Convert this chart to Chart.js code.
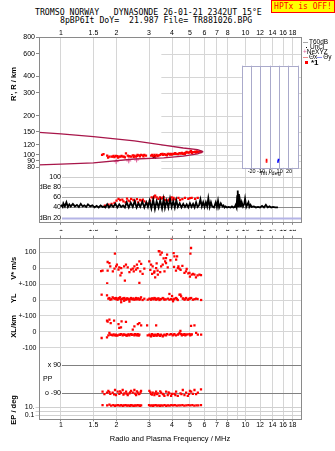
<!DOCTYPE html>
<html>
<head>
<meta charset="utf-8">
<title>Dynasonde ionogram</title>
<script src="https://cdn.jsdelivr.net/npm/chart.js@4.4.1/dist/chart.umd.min.js"></script>
<style>
  body { margin: 0; background: #fff; }
  #page { position: relative; width: 335px; height: 451px; overflow: hidden; }
  #page canvas { position: absolute; }
  .hdr { position: absolute; font-family: 'DejaVu Sans Mono', monospace; font-size: 8.2px; line-height: 9px; white-space: pre; color: #000; }
  #hptx { position: absolute; left: 271px; top: 0; width: 62px; height: 11px; border: 1px solid #f00; background: #ff0;
          color: #f00; font-family: 'DejaVu Sans Mono', monospace; font-size: 8px; line-height: 11px; text-align: center; white-space: pre; }
  .lg { position: absolute; left: 303px; font-family: 'Liberation Sans', Arial, sans-serif; font-size: 6.5px; line-height: 6px; white-space: pre; color: #000; }
  .ln { display: inline-block; width: 5px; height: 1px; vertical-align: middle; margin-right: 1px; }
  .dot { display: inline-block; width: 1px; height: 1px; background: #000; vertical-align: middle; margin: 0 3px 0 3px; }
  .sq { display: inline-block; width: 3px; height: 3px; background: #f00; vertical-align: middle; margin: 0 3px 0 2px; }
</style>
</head>
<body>
<div id="page">
  <div class="hdr" style="left:35px;top:8px">TROMSO NORWAY   DYNASONDE 26-01-21 2342UT 15°E</div>
  <div class="hdr" style="left:60px;top:15.5px">8pBP6It DoY=  21.987 File= TR881026.BPG</div>
  <div id="hptx">HPTx is OFF!</div>

  <canvas id="topChart" width="335" height="228" style="left:0;top:0"></canvas>
  <canvas id="botChart" width="335" height="229" style="left:0;top:222px"></canvas>
  <canvas id="tiltChart" width="75" height="125" style="left:230px;top:55px"></canvas>

  <div class="lg" style="top:39px"><i class="ln" style="background:#a8a8a8"></i>T60dB</div>
  <div class="lg" style="top:44px"><i class="dot"></i>UnCl</div>
  <div class="lg" style="top:49px"><span style="color:#e0609a">+</span>NeXYZ</div>
  <div class="lg" style="top:54px"><i class="ln" style="background:#f08a8a"></i>Θx<i class="ln" style="background:#8a8af0"></i>Θy</div>
  <div class="lg" style="top:59px;font-size:8px;line-height:8px;font-weight:bold"><i class="sq"></i>*1</div>
</div>

<script>
// frequency axis shared by every panel
const fMin = 0.76, fMax = 20;
const freqTicks = [1, 1.5, 2, 3, 4, 5, 6, 7, 8, 10, 12, 14, 16, 18];
const freqTicksMid = [1, 1.5, 2, 3, 4, 5, 6, 7, 8, 9, 10, 12, 14, 16, 18];

// R' panel (virtual range, km)
const rangeTicks = [800, 600, 400, 300, 200, 150, 120, 100, 90, 80];
const modelF = [0.76, 1, 1.5, 2.5, 3.6, 4.6, 5.5, 5.9];
const modelUpper = [149, 145, 138, 128, 119, 113, 110, 106];
const modelLower = [84, 85, 87, 93, 95, 98, 102, 106];
const traceF = [1.67, 1.70, 1.78, 1.83, 1.88, 1.91, 1.95, 1.99, 2.02, 2.07, 2.10, 2.16, 2.20, 2.25, 2.30, 2.35, 2.40, 2.45, 2.50, 2.55,
  2.60, 2.65, 2.72, 2.78, 2.83, 2.89, 3.08, 3.15, 3.21, 3.30, 3.34, 3.45, 3.49, 3.58, 3.64, 3.70, 3.79, 3.86, 3.95, 4.05,
  4.12, 4.20, 4.30, 4.40, 4.48, 4.58, 4.67, 4.75, 4.86, 4.95, 5.07, 5.18, 5.29, 5.40, 5.51, 5.62, 5.74,
  1.80, 1.93, 2.04, 2.13, 2.22, 2.33, 2.48, 2.58, 2.68, 2.80, 3.12, 3.25, 3.40, 3.55, 3.75, 3.90, 4.00, 4.16, 4.35, 4.52,
  4.70, 4.80, 5.00, 5.12, 5.35, 5.46, 5.68];
const traceR = [100, 101.2, 98.7, 96.9, 97, 96.9, 96, 98.1, 98, 96.9, 97, 96.9, 97, 102.7, 98.7, 98, 96.9, 99, 98.7, 97,
  100, 99, 100, 99, 100, 98.7, 98.7, 98, 100, 100, 98.1, 100, 101.2, 100, 101.2, 100, 101.8, 102, 101.8, 102,
  101.8, 102, 101.2, 103, 102.3, 102, 103, 104, 104.2, 104, 107.3, 105, 105, 104, 105, 106, 105,
  95.5, 98.5, 95.5, 98.5, 95.8, 97.5, 96.5, 98.5, 97.5, 97.5, 100, 97, 99, 102, 99, 100.5, 100.5, 103, 102.5, 103.5,
  102, 105.5, 105.5, 103.5, 106, 106.5, 107];
const nexyzF = [1.99, 2.33, 2.57];
const nexyzR = [88.8, 90, 91.5];
const unclF = [3.2];
const unclR = [96.5];

// amplitude panel (dB)
const dbeTicks = [100, 80, 60, 40, 20];
const dbeLabels = ['100', 'dBe 80', '60', '40', 'dBn 20'];
const noiseF = [1.00, 1.02, 1.03, 1.05, 1.07, 1.09, 1.11, 1.13, 1.16, 1.19,
  1.22, 1.25, 1.28, 1.31, 1.34, 1.37, 1.40, 1.44, 1.48, 1.52,
  1.56, 1.60, 1.64, 1.68, 1.71, 1.74, 1.78, 1.82, 1.87, 1.92,
  1.97, 2.02, 2.07, 2.12, 2.17, 2.22, 2.27, 2.33, 2.39, 2.45,
  2.51, 2.57, 2.63, 2.69, 2.76, 2.83, 2.90, 2.96, 3.02, 3.09,
  3.16, 3.23, 3.30, 3.38, 3.45, 3.53, 3.60, 3.66, 3.74, 3.82,
  3.90, 3.98, 4.06, 4.14, 4.22, 4.30, 4.40, 4.50, 4.60, 4.70,
  4.80, 4.90, 5.00, 5.10, 5.20, 5.30, 5.40, 5.50, 5.60, 5.70,
  5.80, 5.90, 6.00, 6.10, 6.20, 6.29, 6.40, 6.50, 6.60, 6.75,
  6.90, 7.00, 7.10, 7.20, 7.35, 7.50, 7.60, 7.70, 7.80, 7.95,
  8.10, 8.30, 8.45, 8.60, 8.75, 8.85, 8.95, 9.02, 9.08, 9.15,
  9.22, 9.28, 9.35, 9.45, 9.55, 9.70, 9.85, 9.95, 10.1, 10.25,
  10.38, 10.5, 10.65, 10.8, 11.1, 11.4, 11.7, 12.0, 12.3, 12.6,
  12.9, 13.2, 13.5, 13.8, 14.1, 14.5, 15.0];
const noiseDb = [45, 41, 48, 42, 50, 41, 46, 42, 47, 42,
  45, 41, 47, 42, 44, 41, 46, 42, 44, 40,
  43, 40, 44, 41, 42, 40, 46, 40, 45, 41,
  47, 40, 46, 41, 44, 40, 50, 40, 49, 41,
  52, 40, 48, 41, 51, 40, 50, 41, 53, 38,
  55, 37, 52, 40, 54, 38, 56, 39, 53, 40,
  57, 41, 52, 40, 54, 41, 48, 40, 47, 41,
  46, 40, 48, 41, 47, 40, 50, 41, 44, 56,
  42, 50, 41, 50, 42, 58, 41, 50, 42, 40,
  50, 41, 53, 40, 48, 42, 44, 40, 42, 40,
  41, 40, 42, 40, 41, 45, 40, 62, 73, 42,
  66, 44, 52, 41, 50, 42, 47, 57, 41, 46,
  50, 41, 45, 41, 42, 40, 41, 40, 43, 40,
  45, 40, 42, 40, 41, 40, 40];
const echoF = [1.73, 1.81, 1.88, 1.95, 2.00, 2.05, 2.09, 2.15, 2.18, 2.24, 2.28, 2.32, 2.36, 2.40, 2.47, 2.52, 2.58, 2.62, 2.68, 2.74,
  2.78, 2.83, 2.91, 3.04, 3.10, 3.17, 3.20, 3.24, 3.30, 3.37, 3.44, 3.50, 3.54, 3.60, 3.66, 3.79, 3.85, 3.90, 3.98, 4.02,
  4.07, 4.16, 4.33, 4.42, 4.55, 4.70, 4.90, 5.00, 5.11, 5.33, 5.51];
const echoDb = [43.5, 45.4, 46.7, 48.7, 53.2, 56.5, 54.5, 55, 51.9, 50, 57, 53.2, 52, 56.5, 54.5, 51.9, 56, 50, 54.5, 53.2,
  55, 51.9, 48, 53.2, 59.8, 58.5, 61, 63, 59.8, 56.5, 59.8, 57, 58.5, 60, 54.5, 53.2, 55, 56.5, 59.8, 55,
  58.5, 55.8, 58.5, 54.5, 56, 58.5, 56.5, 58, 58.5, 56.5, 58.5];

// tilt inset
const tiltTicks = [-30, -20, -10, 0, 10, 20, 30];
const tiltXdeg = [-4, -4, -4];
const tiltXR = [88.5, 90.5, 92.5];
const tiltYdeg = [8.2, 8.5, 8.8];
const tiltYR = [88.5, 90.5, 92.5];

// V* (m/s)
const velF = [1.65, 1.68, 1.78, 1.79, 1.79, 1.83, 1.85, 1.91, 1.95, 1.96, 1.99, 2.01, 2.05, 2.07, 2.10, 2.12, 2.13, 2.20, 2.22, 2.25,
  2.30, 2.35, 2.40, 2.41, 2.45, 2.48, 2.50, 2.55, 2.58, 2.60, 2.66, 2.66, 2.69, 2.72, 2.77, 2.83, 3.01, 3.08, 3.14, 3.21,
  3.24, 3.28, 3.34, 3.42, 3.46, 3.49, 3.56, 3.64, 3.67, 3.71, 3.71, 3.76, 3.79, 3.92, 3.98, 4.08, 4.12, 4.21, 4.26, 4.30,
  4.33, 4.39, 4.67, 4.76, 4.97, 5.00, 5.03, 5.07, 5.11, 5.29, 5.39, 5.63, 5.74,
  3.39, 3.52, 3.60, 3.30, 3.20, 3.05, 3.12, 3.35, 3.45, 4.10, 4.20, 4.45, 4.55, 4.80, 4.90, 5.20, 5.50];
const velV = [-18, -15, -95, 39, -15, 32, 12, -20, -3, 92, 12, 22, -9, 5, -45, 1, -30, 12, -78, 22,
  5, -24, -9, -114, -3, -20, 12, -9, 22, 1, 43, -93, -20, 27, -36, -3, 43, 22, 12, -20,
  -58, 1, -15, 106, 85, 12, 22, -20, 43, 64, 32, 85, 5, 50, 186, 95, 75, 54, 75, 1,
  11, -3, -30, -20, -30, -53, 92, 127, -40, -40, -58, -40, -43,
  108, 98, 62, 30, -28, -10, -35, -40, -25, 8, -15, -10, 15, -5, -32, -36, -45];

// YL, XL (km)
const ylF = [1.661, 1.776, 1.806, 1.83, 1.851, 1.906, 1.963, 1.987, 2.029, 2.072, 2.09, 2.115, 2.12, 2.16, 2.2, 2.206, 2.253, 2.3, 2.349, 2.35,
  2.398, 2.42, 2.449, 2.5, 2.553, 2.606, 2.661, 2.716, 2.77, 2.83, 2.951, 3.015, 3.078, 3.143, 3.208, 3.277, 3.345, 3.416, 3.487, 3.561,
  3.636, 3.8, 3.87, 3.871, 3.953, 4.0, 4.03, 4.05, 4.121, 4.208, 4.297, 4.388, 4.443, 4.48, 4.574, 4.67, 4.769, 4.868, 4.972, 5.077,
  5.184, 5.403, 5.751,
  1.88, 1.94, 2.0, 2.05, 2.14, 2.18, 2.23, 2.28, 2.32, 2.38, 2.47, 2.53, 2.58, 2.63, 2.69, 3.05, 3.11, 3.18, 3.24, 3.31,
  3.38, 3.45, 3.6, 3.7, 4.1, 4.25, 4.6, 4.72, 4.92, 5.0, 5.3, 5.5];
const ylV = [33.5, 29.3, 8.4, 12.6, 2, 16.8, 8.4, 12.6, 2, 8.4, 16.8, 2, -14, 8.4, -5, 12.6, 2, 8.4, 2, -10,
  12.6, 6, 4, 2, 12.6, 8.4, 2, 16.8, 0, 8, 2, 8.4, 2, 8.4, 12.6, 2, 8.4, 0, 6.3, 12.6,
  2, 8.4, 38, 2, 6.3, 25, 2, -8, 8.4, 12.6, 0, 33.5, 33.5, 23, 8.4, 2, 12.6, 2, 8.4, 12.6,
  2, 8.4, 0,
  5, 10, 4, 12, 6, 10, 4, 10, 5, 8, 10, 5, 4, 10, 6, 5, 10, 4, 10, 5,
  10, 4, 8, 4, 4, 6, 10, 6, 4, 10, 5, 6];
const xlF = [1.661, 1.776, 1.806, 1.83, 1.851, 1.906, 1.963, 1.987, 2.029, 2.072, 2.115, 2.16, 2.206, 2.253, 2.3, 2.349, 2.398, 2.449, 2.5, 2.553,
  2.606, 2.661, 2.951, 3.015, 3.078, 3.143, 3.208, 3.277, 3.345, 3.416, 3.487, 3.561, 3.636, 3.713, 3.871, 3.953, 4.03, 4.121, 4.297, 4.388,
  4.48, 4.574, 4.67, 4.769, 4.972, 5.077, 5.403, 5.518, 5.751,
  1.88, 1.93, 2.0, 2.09, 2.18, 2.23, 2.28, 2.33, 2.42, 2.52, 2.58, 2.64, 3.05, 3.11, 3.18, 3.24, 3.31, 3.38, 3.45, 3.6,
  3.75, 4.08, 4.2, 4.34, 4.52, 4.62, 4.72, 4.85, 5.02, 5.12,
  1.79, 1.83, 1.776, 1.86, 1.94, 2.05, 2.13, 2.25, 2.115, 2.07, 2.61, 2.66, 2.5, 2.45, 2.72, 2.93, 3.28, 5.29, 5.07, 4.44];
const xlV = [-39, -35, -22, -7.5, -18, -22, -22, -18, -22, -18, -14, -22, -18, -22, -18, -22, -14, -18, -22, -18,
  -14, -18, -22, -18, -28, -18, -22, -22, -14, -22, -18, -28, -18, -22, -18, -14, -22, -14, -18, -7.5,
  -14, -18, -14, -18, -14, -18, -7.5, -18, -18,
  -20, -16, -24, -20, -16, -20, -24, -16, -20, -14, -22, -24, -24, -14, -26, -18, -24, -18, -26, -22,
  -14, -18, -22, -14, -22, -20, -22, -16, -22, -16,
  64, 76, 70, 55, 70, 49, 66, 62, 28, 24, 49, 55, 34, 13, 41, 41, 41, 41, 38, 5];

// PP and EP (deg)
const ppF = [1.776, 1.806, 1.851, 1.906, 1.963, 1.987, 2.029, 2.072, 2.115, 2.16, 2.206, 2.253, 2.3, 2.349, 2.398, 2.449, 2.5, 2.553, 2.606, 2.661,
  2.716, 3.015, 3.078, 3.143, 3.208, 3.277, 3.345, 3.416, 3.487, 3.561, 3.636, 3.713, 3.791, 3.871, 3.953, 4.121, 4.208, 4.297, 4.443, 4.574,
  4.67, 4.769, 4.868, 5.077, 5.184, 5.292, 5.518, 1.68, 5.74, 1.72,
  1.83, 1.94, 2.09, 2.18, 2.27, 2.37, 2.52, 2.58, 2.64, 2.7, 3.05, 3.11, 3.24, 3.31, 3.45, 3.6, 3.83, 4.0, 4.17, 4.5,
  4.95, 5.0, 5.4];
const ppV = [-86, -75, -94, -86, -69, -101, -80, -94, -86, -69, -90, -80, -101, -90, -75, -86, -69, -101, -86, -94,
  -75, -75, -94, -86, -101, -80, -90, -107, -86, -94, -107, -80, -101, -90, -107, -94, -80, -107, -90, -69,
  -101, -86, -107, -80, -94, -69, -86, -80, -65, -95,
  -82, -97, -78, -98, -92, -84, -92, -78, -96, -84, -84, -98, -90, -96, -78, -98, -84, -94, -102, -96,
  -94, -75, -96];
const epTicks = [10, 1, 0.1];
const epF = [1.68, 1.78, 1.83, 1.87, 1.92, 1.96, 2.0, 2.04, 2.08, 2.12, 2.16, 2.2, 2.24, 2.28, 2.32, 2.36, 2.4, 2.44, 2.48, 2.52,
  2.56, 2.6, 2.64, 2.68, 2.72, 3.0, 3.05, 3.1, 3.15, 3.2, 3.26, 3.32, 3.38, 3.44, 3.5, 3.56, 3.64, 3.72, 3.8, 3.88,
  3.96, 4.05, 4.14, 4.24, 4.34, 4.44, 4.55, 4.66, 4.78, 4.9, 5.02, 5.15, 5.28, 5.42, 5.55, 5.74];
const epV = [30, 26, 35, 22, 28, 20, 25, 30, 22, 27, 20, 24, 30, 22, 26, 20, 28, 23, 19, 26,
  22, 30, 24, 20, 26, 28, 22, 26, 20, 24, 30, 22, 26, 20, 25, 22, 28, 20, 25, 22,
  28, 24, 30, 22, 26, 24, 28, 22, 26, 30, 24, 28, 22, 26, 24, 30];

const pts = (xs, ys) => xs.map((x, i) => ({ x: x, y: ys[i] }));

Chart.defaults.font.family = "'Liberation Sans', Arial, sans-serif";
Chart.defaults.font.size = 7;
Chart.defaults.color = '#000';
Chart.defaults.animation = false;

const frameColor = '#8a8a8a';
const gridColor = '#d6d6d6';
const red = '#ff0000';
const labelFont = "7px 'Liberation Sans', Arial, sans-serif";
const titleFont = "bold 7.5px 'Liberation Sans', Arial, sans-serif";

function hLine(ctx, x0, x1, y) {
  const yy = Math.round(y) + 0.5;
  ctx.beginPath();
  ctx.moveTo(x0, yy);
  ctx.lineTo(x1, yy);
  ctx.stroke();
}

function vText(ctx, txt, x, y) {
  ctx.save();
  ctx.translate(x, y);
  ctx.rotate(-Math.PI / 2);
  ctx.font = titleFont;
  ctx.fillStyle = '#000';
  ctx.textAlign = 'center';
  ctx.textBaseline = 'middle';
  ctx.fillText(txt, 0, 0);
  ctx.restore();
}

function drawFrame(ctx, a) {
  ctx.save();
  ctx.strokeStyle = frameColor;
  ctx.lineWidth = 1;
  ctx.strokeRect(Math.round(a.left) + 0.5, Math.round(a.top) + 0.5,
    Math.round(a.right) - Math.round(a.left), Math.round(a.bottom) - Math.round(a.top));
  ctx.restore();
}

const dotStyle = { pointStyle: 'rect', pointRadius: 1.6, backgroundColor: red, borderWidth: 0 };

// ---------- upper chart: R' and amplitude ----------
const topPanels = {
  id: 'topPanels',
  beforeDatasetsDraw(chart) {
    const { ctx, chartArea: a, scales } = chart;
    const x = scales.x, yR = scales.yR, yD = scales.yD;
    ctx.save();
    ctx.lineWidth = 1;
    ctx.strokeStyle = gridColor;
    const gx = x.getPixelForValue(3.5);
    rangeTicks.forEach(v => hLine(ctx, gx, a.right, yR.getPixelForValue(v)));

    const x1 = x.getPixelForValue(1);
    const colors = ['#cfcfcf', '#c4c4c4', '#ababab', '#8c8c8c', '#b4b4e6'];
    ctx.font = labelFont;
    ctx.textAlign = 'right';
    ctx.textBaseline = 'middle';
    ctx.fillStyle = '#000';
    dbeTicks.forEach((v, i) => {
      const y = yD.getPixelForValue(v);
      ctx.strokeStyle = colors[i];
      ctx.lineWidth = i === 4 ? 2 : 1;
      hLine(ctx, x1 + 1, a.right, y);
      ctx.fillText(dbeLabels[i], x1, y);
    });
    ctx.restore();
  },
  afterDatasetsDraw(chart) {
    const { ctx, chartArea: a, scales } = chart;
    drawFrame(ctx, a);
    vText(ctx, "R', R / km", 14, scales.yR.getPixelForValue(350));
  }
};

new Chart(document.getElementById('topChart'), {
  type: 'scatter',
  data: {
    datasets: [
      { data: pts(modelF, modelUpper), yAxisID: 'yR', showLine: true, pointRadius: 0, borderColor: '#a8164a', borderWidth: 1.3 },
      { data: pts(modelF, modelLower), yAxisID: 'yR', showLine: true, pointRadius: 0, borderColor: '#a8164a', borderWidth: 1.3 },
      Object.assign({ data: pts(traceF, traceR), yAxisID: 'yR' }, dotStyle),
      { data: pts(nexyzF, nexyzR), yAxisID: 'yR', pointStyle: 'cross', pointRadius: 2.5, borderColor: '#e0609a', borderWidth: 1 },
      { data: pts(unclF, unclR), yAxisID: 'yR', pointStyle: 'crossRot', pointRadius: 2.5, borderColor: '#000', borderWidth: 1.2 },
      { data: pts(noiseF, noiseDb), yAxisID: 'yD', showLine: true, pointRadius: 0, borderColor: '#000', borderWidth: 1.8 },
      Object.assign({ data: pts(echoF, echoDb), yAxisID: 'yD' }, dotStyle)
    ]
  },
  options: {
    responsive: false,
    devicePixelRatio: 1,
    layout: { padding: { left: 0, right: 34, top: 27.3, bottom: 2.7 } },
    plugins: { legend: { display: false }, tooltip: { enabled: false } },
    scales: {
      x: {
        type: 'logarithmic', position: 'top', min: fMin, max: fMax,
        afterBuildTicks: s => { s.ticks = freqTicks.map(v => ({ value: v })); },
        afterFit: s => { s.height = 10; },
        ticks: { autoSkip: false, maxRotation: 0, padding: 0, callback: v => String(v) },
        grid: { color: gridColor, drawTicks: false },
        border: { display: false }
      },
      xb: {
        type: 'logarithmic', position: 'bottom', min: fMin, max: fMax,
        afterBuildTicks: s => { s.ticks = freqTicks.map(v => ({ value: v })); },
        afterFit: s => { s.height = 3; },
        ticks: { display: false },
        grid: { drawOnChartArea: false, tickLength: 2.5, tickColor: frameColor },
        border: { display: false }
      },
      // stacked axes are laid out bottom-up in definition order
      yD: {
        type: 'linear', position: 'left', stack: 'left', stackWeight: 50.3, min: 11, max: 109.2,
        afterFit: s => { s.width = 39; },
        ticks: { display: false },
        grid: { display: false },
        border: { display: false }
      },
      yR: {
        type: 'logarithmic', position: 'left', stack: 'left', stackWeight: 134.5, min: 74, max: 800,
        afterBuildTicks: s => { s.ticks = rangeTicks.map(v => ({ value: v })); },
        afterFit: s => { s.width = 39; },
        ticks: { autoSkip: false, padding: 1, callback: v => String(v) },
        grid: { drawOnChartArea: false, tickLength: 3, tickColor: frameColor },
        border: { display: false }
      }
    }
  },
  plugins: [topPanels]
});

// ---------- tilt inset ----------
const tiltBox = {
  id: 'tiltBox',
  beforeDraw(chart) {
    const { ctx, chartArea: a } = chart;
    ctx.save();
    ctx.fillStyle = '#fff';
    ctx.fillRect(a.left, a.top, a.right - a.left, a.bottom - a.top);
    ctx.restore();
  },
  afterDraw(chart) {
    const { ctx, chartArea: a } = chart;
    ctx.save();
    ctx.strokeStyle = '#aaaacb';
    ctx.strokeRect(Math.round(a.left) + 0.5, Math.round(a.top) + 0.5,
      Math.round(a.right) - Math.round(a.left), Math.round(a.bottom) - Math.round(a.top));
    ctx.restore();
  }
};

new Chart(document.getElementById('tiltChart'), {
  type: 'scatter',
  data: {
    datasets: [
      { data: pts(tiltXdeg, tiltXR), pointStyle: 'rect', pointRadius: 1.2, backgroundColor: red, borderWidth: 0 },
      { data: pts(tiltYdeg, tiltYR), pointStyle: 'rect', pointRadius: 1.2, backgroundColor: '#0000ff', borderWidth: 0 }
    ]
  },
  options: {
    responsive: false,
    devicePixelRatio: 1,
    layout: { padding: { left: 12.3, right: 6.7, top: 10.7, bottom: 0.3 } },
    plugins: { legend: { display: false }, tooltip: { enabled: false } },
    scales: {
      x: {
        type: 'linear', min: -30, max: 30,
        afterBuildTicks: s => { s.ticks = tiltTicks.map(v => ({ value: v })); },
        afterFit: s => { s.height = 12; },
        ticks: { autoSkip: false, maxRotation: 0, padding: 0, font: { size: 5.5 }, callback: v => Math.abs(v) === 30 ? '' : String(v) },
        grid: { color: '#aaaacb', drawTicks: false },
        border: { display: false },
        title: { display: true, text: 'Tilt / deg', font: { size: 5.5 }, padding: { top: 0, bottom: 3 } }
      },
      y: { type: 'logarithmic', min: 80, max: 486, display: false }
    }
  },
  plugins: [tiltBox]
});

// ---------- lower chart: V*, YL, XL, PP, EP ----------
const lowPanels = {
  id: 'lowPanels',
  beforeDatasetsDraw(chart) {
    const { ctx, chartArea: a, scales } = chart;
    const x1 = scales.x.getPixelForValue(1);
    ctx.save();
    ctx.strokeStyle = '#808080';
    ctx.lineWidth = 1;
    ctx.font = labelFont;
    ctx.fillStyle = '#000';
    ctx.textBaseline = 'middle';
    ctx.textAlign = 'right';
    [[90, 'x 90'], [-90, 'o -90']].forEach(([v, t]) => {
      const y = scales.yP.getPixelForValue(v);
      hLine(ctx, x1 + 1, a.right, y);
      ctx.fillText(t, x1, y);
    });
    ctx.textAlign = 'left';
    ctx.fillText('PP', a.left + 4, scales.yP.getPixelForValue(0));
    ctx.restore();
  },
  afterDatasetsDraw(chart) {
    const { ctx, chartArea: a, scales } = chart;
    drawFrame(ctx, a);
    vText(ctx, 'V* m/s', 14, scales.yV.getPixelForValue(0));
    vText(ctx, 'YL', 14, scales.yY.getPixelForValue(12));
    vText(ctx, '/km', 14, scales.yX.getPixelForValue(65));
    vText(ctx, 'XL', 14, scales.yX.getPixelForValue(-8));
    vText(ctx, 'EP / deg', 14, scales.yE.getPixelForValue(2));
  }
};

function linAxis(min, max, weight, ticks, labels) {
  return {
    type: 'linear', position: 'left', stack: 'low', stackWeight: weight, min: min, max: max,
    afterBuildTicks: s => { s.ticks = ticks.map(v => ({ value: v })); },
    afterFit: s => { s.width = 39; },
    ticks: { autoSkip: false, padding: 2.5, callback: v => labels[ticks.indexOf(v)] },
    grid: { color: gridColor, drawTicks: false },
    border: { display: false }
  };
}

new Chart(document.getElementById('botChart'), {
  type: 'scatter',
  data: {
    datasets: [
      Object.assign({ data: pts(velF, velV), yAxisID: 'yV' }, dotStyle),
      Object.assign({ data: pts(ylF, ylV), yAxisID: 'yY' }, dotStyle),
      Object.assign({ data: pts(xlF, xlV), yAxisID: 'yX' }, dotStyle),
      Object.assign({ data: pts(ppF, ppV), yAxisID: 'yP' }, dotStyle),
      Object.assign({ data: pts(epF, epV), yAxisID: 'yE' }, dotStyle)
    ]
  },
  options: {
    responsive: false,
    devicePixelRatio: 1,
    layout: { padding: { left: 0, right: 34, top: 7.7, bottom: 5.7 } },
    plugins: { legend: { display: false }, tooltip: { enabled: false } },
    scales: {
      x: {
        type: 'logarithmic', position: 'top', min: fMin, max: fMax,
        afterBuildTicks: s => { s.ticks = freqTicksMid.map(v => ({ value: v })); },
        afterFit: s => { s.height = 8; },
        ticks: { autoSkip: false, maxRotation: 0, padding: 2, callback: v => String(v) },
        grid: { color: gridColor, tickLength: 2, tickColor: frameColor },
        border: { display: false }
      },
      xb: {
        type: 'logarithmic', position: 'bottom', min: fMin, max: fMax,
        afterBuildTicks: s => { s.ticks = freqTicks.map(v => ({ value: v })); },
        afterFit: s => { s.height = 26; },
        ticks: { autoSkip: false, maxRotation: 0, padding: 0, callback: v => String(v) },
        grid: { drawOnChartArea: false, tickLength: 2, tickColor: frameColor },
        border: { display: false },
        title: { display: true, text: 'Radio and Plasma Frequency / MHz', font: { size: 7.5 }, padding: { top: 0, bottom: 2 } }
      },
      // stacked axes are laid out bottom-up in definition order
      yE: {
        type: 'logarithmic', position: 'left', stack: 'low', stackWeight: 18.3, min: 0.0109, max: 279,
        afterBuildTicks: s => { s.ticks = epTicks.map(v => ({ value: v })); },
        afterFit: s => { s.width = 39; },
        ticks: { autoSkip: false, padding: 1, callback: v => v === 10 ? '10.' : (v === 1 ? '' : '0.1') },
        grid: { color: '#d0d0d0', tickLength: 3.5, tickColor: '#d0d0d0' },
        border: { display: false }
      },
      yP: {
        type: 'linear', position: 'left', stack: 'low', stackWeight: 53.3, min: -139, max: 200.2,
        afterFit: s => { s.width = 39; },
        ticks: { display: false },
        grid: { display: false },
        border: { display: false }
      },
      yX: linAxis(-100, 100, 31.8, [0, -100], ['0', '-100']),
      yY: linAxis(-100, 100, 31.8, [0, -100], ['0', '+-100']),
      yV: linAxis(-100, 191.8, 46.4, [100, 0, -100], ['100', '0', '+-100'])
    }
  },
  plugins: [lowPanels]
});
</script>
</body>
</html>
